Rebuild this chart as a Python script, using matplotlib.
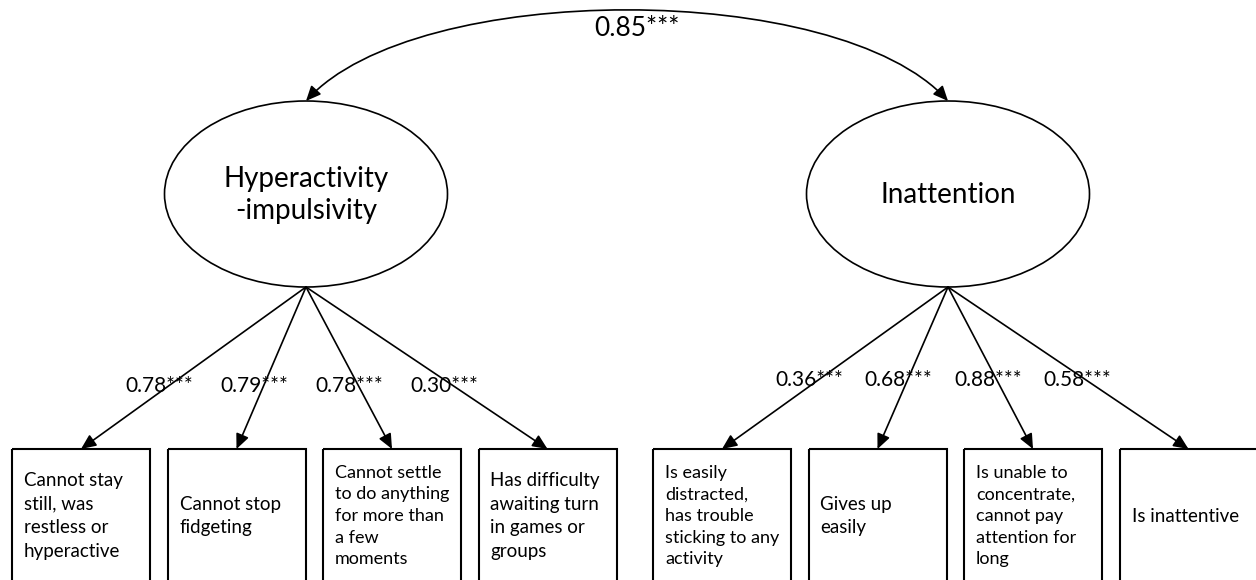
import matplotlib
matplotlib.use("Agg")
import matplotlib.pyplot as plt
from matplotlib.patches import Ellipse, Rectangle, FancyArrowPatch
from matplotlib.path import Path

plt.rcParams['font.family'] = ['Lato', 'DejaVu Sans']

# data
factors = ["Hyperactivity\n-impulsivity", "Inattention"]
factor_corr = "0.85***"
loadings = [["0.78***", "0.79***", "0.78***", "0.30***"],
            ["0.36***", "0.68***", "0.88***", "0.58***"]]
items = [["Cannot stay\nstill, was\nrestless or\nhyperactive",
          "Cannot stop\nfidgeting",
          "Cannot settle\nto do anything\nfor more than\na few\nmoments",
          "Has difficulty\nawaiting turn\nin games or\ngroups"],
         ["Is easily\ndistracted,\nhas trouble\nsticking to any\nactivity",
          "Gives up\neasily",
          "Is unable to\nconcentrate,\ncannot pay\nattention for\nlong",
          "Is inattentive"]]

# layout (pixel units, y downwards)
W, H = 1256, 580
fig = plt.figure(figsize=(W / 100, H / 100), dpi=100)
ax = fig.add_axes([0, 0, 1, 1])
ax.set_xlim(0, W)
ax.set_ylim(H, 0)
ax.axis('off')

ell_cx = [306, 948]
ell_cy, ell_w, ell_h = 194, 283, 186
box_top, box_w, box_h = 449, 138, 160
group_x0 = [12, 653]
box_step = 155.5
label_y = [386, 380]

arrow_kw = dict(arrowstyle='-|>,head_length=0.9,head_width=0.4',
                mutation_scale=10, color='black', lw=1.2,
                shrinkA=0, shrinkB=0)

for g in range(2):
    cx = ell_cx[g]
    ax.add_patch(Ellipse((cx, ell_cy), ell_w, ell_h, fill=False,
                         ec='black', lw=1.2))
    ax.text(cx, ell_cy + 1, factors[g], ha='center', va='center',
            fontsize=20, linespacing=1.3)
    src = (cx, ell_cy + ell_h / 2)
    for i in range(4):
        left = group_x0[g] + i * box_step
        ax.add_patch(Rectangle((left, box_top), box_w, box_h, fill=False,
                               ec='black', lw=1.5))
        tip = (left + box_w / 2, box_top)
        ax.add_patch(FancyArrowPatch(src, tip, **arrow_kw))
        # loading label along the path
        t = (label_y[g] - src[1]) / (tip[1] - src[1])
        lx = src[0] + t * (tip[0] - src[0]) - 9
        ax.text(lx, label_y[g], loadings[g][i], ha='center', va='center',
                fontsize=15)
        n_lines = items[g][i].count("\n") + 1
        fs = 13 if n_lines >= 5 else 13.5
        ax.text(left + 12, 516, items[g][i], ha='left', va='center',
                fontsize=fs, linespacing=1.44 if n_lines >= 5 else 1.48)

# covariance arc between the two factors
p0 = (ell_cx[0], ell_cy - ell_h / 2)
p3 = (ell_cx[1], ell_cy - ell_h / 2)
arc = Path([p0, (p0[0] + 110, -20), (p3[0] - 110, -20), p3],
           [Path.MOVETO, Path.CURVE4, Path.CURVE4, Path.CURVE4])
ax.add_patch(FancyArrowPatch(path=arc,
                             arrowstyle='<|-|>,head_length=0.9,head_width=0.4',
                             mutation_scale=10, color='black', lw=1.2))
ax.text((p0[0] + p3[0]) / 2 + 10, 28, factor_corr, ha='center', va='center',
        fontsize=19)

fig.savefig("out.png", dpi=100)
